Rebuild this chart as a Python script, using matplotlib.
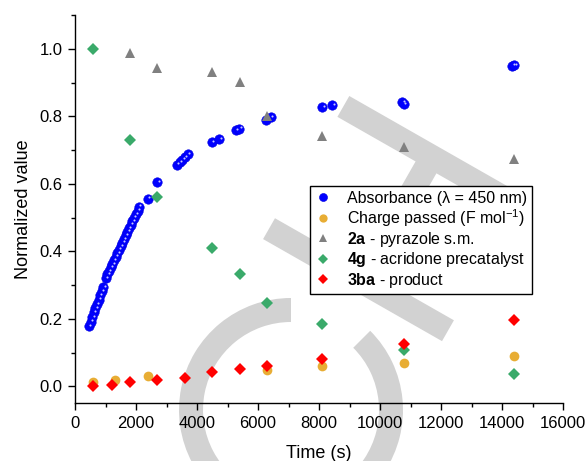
"""
Normalized absorbance / charge / species profiles vs time, with faint logo watermark.
"""

import numpy as np
import matplotlib
matplotlib.use('Agg')
import matplotlib.pyplot as plt
from matplotlib.patches import Wedge, Polygon
from matplotlib.ticker import MultipleLocator
from matplotlib.transforms import Affine2D, offset_copy

plt.rcParams['font.family'] = ['Liberation Sans', 'DejaVu Sans']
plt.rcParams['mathtext.fontset'] = 'custom'
plt.rcParams['mathtext.rm'] = 'Liberation Sans'
plt.rcParams['mathtext.bf'] = 'Liberation Sans:bold'
plt.rcParams['mathtext.it'] = 'Liberation Sans:italic'

# ── Data ─────────────────────────────────────────────────────────

abs_t = [460, 510, 565, 615, 670, 720, 775, 825, 880, 930,
         1005, 1060, 1115, 1170, 1225, 1280, 1335, 1390, 1445, 1500, 1555,
         1610, 1665, 1720, 1775, 1830, 1885, 1940, 1995, 2050, 2100,
         2390, 2700, 3340, 3430, 3520, 3610, 3700, 4490, 4730, 5280, 5390,
         6250, 6420, 8110, 8440, 10730, 10780, 14340, 14400]
abs_v = [0.178, 0.192, 0.206, 0.219, 0.232, 0.244, 0.257, 0.270, 0.283, 0.295,
         0.321, 0.332, 0.342, 0.353, 0.363, 0.374, 0.384, 0.395, 0.405, 0.416, 0.426,
         0.437, 0.448, 0.458, 0.469, 0.479, 0.490, 0.500, 0.511, 0.521, 0.532,
         0.556, 0.605, 0.657, 0.664, 0.672, 0.680, 0.687, 0.723, 0.733, 0.758, 0.763,
         0.788, 0.797, 0.828, 0.832, 0.842, 0.837, 0.950, 0.952]

charge_t = [600, 1310, 2400, 6300, 8100, 10800, 14400]
charge_v = [0.012, 0.020, 0.030, 0.048, 0.060, 0.070, 0.090]

sm_t = [1800, 2700, 4500, 5400, 6300, 8100, 10800, 14400]
sm_v = [0.988, 0.942, 0.932, 0.901, 0.802, 0.743, 0.710, 0.673]

cat_t = [600, 1800, 2700, 4500, 5400, 6300, 8100, 10800, 14400]
cat_v = [1.000, 0.730, 0.562, 0.409, 0.333, 0.247, 0.185, 0.107, 0.038]

prod_t = [600, 1200, 1800, 2700, 3600, 4500, 5400, 6300, 8100, 10800, 14400]
prod_v = [0.002, 0.005, 0.012, 0.018, 0.025, 0.042, 0.052, 0.059, 0.082, 0.126, 0.198]

labels = ['Absorbance (λ = 450 nm)',
          r'Charge passed (F mol$^{-1}$)',
          r'$\mathbf{2a}$ - pyrazole s.m.',
          r'$\mathbf{4g}$ - acridone precatalyst',
          r'$\mathbf{3ba}$ - product']

# ── Figure ───────────────────────────────────────────────────────

W, H = 587, 461
fig = plt.figure(figsize=(W / 100, H / 100), dpi=100)
ax = fig.add_axes([75 / W, 1 - 403.3 / H, 488 / W, 388.3 / H])
ax.set_facecolor('none')

# watermark (figure pixels, y up), drawn below the axes
px = Affine2D().scale(1 / W, 1 / H) + fig.transFigure
wm = '#d2d2d2'
fig.patches.append(Wedge((291, H - 410), 112, 90, 405, width=24,
                         transform=px, facecolor=wm, edgecolor='none', zorder=-1))
a = np.deg2rad(29.7)
U = np.array([np.cos(a), np.sin(a)])
N = np.array([-np.sin(a), np.cos(a)])
P0 = np.array([349.3, 96.0])
outline = [(0, 0), (206, 0), (206, 24), (114, 24), (114, 143), (202, 143),
           (202, 167), (-4, 167), (-4, 143), (90, 143), (90, 24), (0, 24)]
pts = [P0 + u * U + n * N for u, n in outline]
pts = [(p[0], H - p[1]) for p in pts]
fig.patches.append(Polygon(pts, closed=True, transform=px,
                           facecolor=wm, edgecolor='none', zorder=-1))

# series
ax.plot(abs_t, abs_v, 'o', color='#0000ff', ms=6.8, mec='#0000e0', mew=0.4,
        label=labels[0], zorder=3)
# small specular highlight on each ball
hl = offset_copy(ax.transData, fig=fig, x=1.3, y=1.3, units='dots')
ax.plot(abs_t, abs_v, 'o', color='#c8c8ff', ms=1.5, mew=0, transform=hl, zorder=3)
ax.plot(charge_t, charge_v, 'o', color='#e8ad34', ms=7.0, mew=0,
        label=labels[1], zorder=3)
ax.plot(sm_t, sm_v, '^', color='#808080', ms=7.0, mew=0, label=labels[2], zorder=3)
ax.plot(cat_t, cat_v, 'D', color='#3aaa6a', ms=6.4, mew=0, label=labels[3], zorder=3)
ax.plot(prod_t, prod_v, 'D', color='#ff0000', ms=6.4, mew=0, label=labels[4], zorder=3)

ax.set_xlim(0, 16000)
ax.set_ylim(-0.05, 1.1)
ax.set_xticks(np.arange(0, 16001, 2000))
ax.set_yticks(np.arange(0, 1.01, 0.2))
ax.set_yticklabels([f'{v:.1f}' for v in np.arange(0, 1.01, 0.2)])
ax.xaxis.set_minor_locator(MultipleLocator(1000))
ax.yaxis.set_minor_locator(MultipleLocator(0.1))
ax.tick_params(which='major', direction='out', length=5, width=1, labelsize=12, pad=4)
ax.tick_params(which='minor', direction='out', length=3, width=1)
for s in ('top', 'right'):
    ax.spines[s].set_visible(False)
for s in ('left', 'bottom'):
    ax.spines[s].set_linewidth(1)

ax.set_xlabel('Time (s)', fontsize=13, labelpad=10)
ax.set_ylabel('Normalized value', fontsize=13, labelpad=5)

leg = ax.legend(loc='upper left', bbox_to_anchor=(0.4816, 0.5596), borderaxespad=0,
                fontsize=11.5, frameon=True, fancybox=False, edgecolor='black',
                framealpha=1, handlelength=1.0, handletextpad=1.0, markerscale=0.85,
                labelspacing=0.08, borderpad=0.3, numpoints=1)
leg.get_frame().set_linewidth(1)
leg.set_zorder(5)

fig.savefig('out.png', dpi=100)
